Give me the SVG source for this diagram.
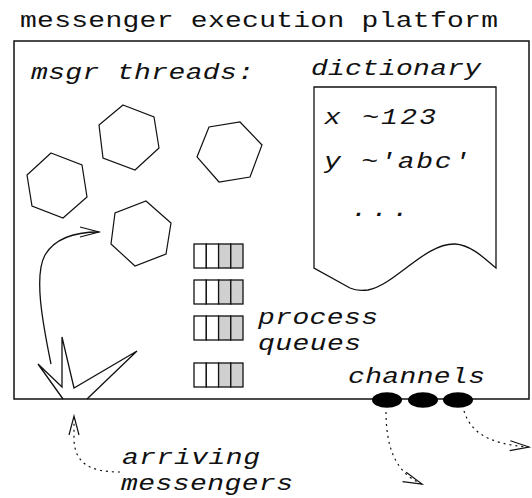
<svg xmlns="http://www.w3.org/2000/svg" width="532" height="498" viewBox="0 0 532 498">
  <style>
    .lbl { font-family: "Liberation Mono", "Courier New", monospace; font-size: 28px; fill: #111; }
    .it { font-style: italic; }
    .edge { fill: none; stroke: #111; stroke-width: 1.3; }
    .thread { fill: #fff; stroke: #111; stroke-width: 1.2; }
    .cell { fill: #fff; stroke: #111; stroke-width: 1.3; }
    .cell.busy { fill: #d0d0d0; }
    .dotted { fill: none; stroke: #111; stroke-width: 1.2; stroke-dasharray: 2 4; }
  </style>
  <defs>
    <marker id="open-head" markerUnits="userSpaceOnUse" markerWidth="24" markerHeight="14" viewBox="-21 -7 24 14" refX="0" refY="0" orient="auto">
      <path d="M-19,-5 L0,0 L-19,5" fill="none" stroke="#111" stroke-width="1.2" stroke-dasharray="none"/>
    </marker>
  </defs>

  <rect width="532" height="498" fill="#fff"/>

  <!-- labels use a wide, slightly flattened typewriter face: translate to baseline, then squash vertically -->

  <!-- platform -->
  <g id="platform">
    <text class="lbl" transform="translate(20,27) scale(1,0.8)" textLength="478" lengthAdjust="spacing">messenger execution platform</text>
    <rect x="14" y="41" width="515" height="358" fill="none" stroke="#111" stroke-width="1.5"/>
    <text class="lbl it" transform="translate(31,79) scale(1,0.8)" textLength="223" lengthAdjust="spacing">msgr threads:</text>
  </g>

  <!-- threads -->
  <g id="thread-1"><polygon class="thread" points="123,105 154,117 159,148 135,170 103,158 99,125"/></g>
  <g id="thread-2"><polygon class="thread" points="240,122 262,145 250,177 219,182 197,157 209,127"/></g>
  <g id="thread-3"><polygon class="thread" points="51,153 82,165 87,197 63,218 32,206 27,175"/></g>
  <g id="thread-4"><polygon class="thread" points="146,201 171,223 166,254 135,266 111,244 115,213"/></g>

  <!-- dictionary -->
  <g id="dictionary">
    <text class="lbl it" transform="translate(311,75) scale(1,0.8)" textLength="170" lengthAdjust="spacing">dictionary</text>
    <path class="edge" d="M314,268 L314,87 L496,87 L496,268 C486,260 472,245 455,244 C425,243 395,285 368,290 C360,291 354,290 350,288 Z"/>
    <text class="lbl it" transform="translate(324,124) scale(1,0.8)" textLength="112" lengthAdjust="spacing">x ~123</text>
    <text class="lbl it" transform="translate(324,168) scale(1,0.8)" textLength="146" lengthAdjust="spacing">y ~'abc'</text>
    <text class="lbl it" transform="translate(351,216) scale(1,0.8)" textLength="58" lengthAdjust="spacing">...</text>
  </g>

  <!-- process queues -->
  <g id="queue-1">
    <rect class="cell" x="194" y="244" width="12.3" height="24"/>
    <rect class="cell" x="206.3" y="244" width="12.3" height="24"/>
    <rect class="cell busy" x="218.6" y="244" width="12.2" height="24"/>
    <rect class="cell busy" x="230.8" y="244" width="12.2" height="24"/>
  </g>
  <g id="queue-2">
    <rect class="cell" x="194" y="280" width="12.3" height="24"/>
    <rect class="cell" x="206.3" y="280" width="12.3" height="24"/>
    <rect class="cell busy" x="218.6" y="280" width="12.2" height="24"/>
    <rect class="cell busy" x="230.8" y="280" width="12.2" height="24"/>
  </g>
  <g id="queue-3">
    <rect class="cell" x="194" y="316" width="12.3" height="24"/>
    <rect class="cell" x="206.3" y="316" width="12.3" height="24"/>
    <rect class="cell busy" x="218.6" y="316" width="12.2" height="24"/>
    <rect class="cell busy" x="230.8" y="316" width="12.2" height="24"/>
  </g>
  <g id="queue-4">
    <rect class="cell" x="194" y="363" width="12.3" height="24"/>
    <rect class="cell" x="206.3" y="363" width="12.3" height="24"/>
    <rect class="cell busy" x="218.6" y="363" width="12.2" height="24"/>
    <rect class="cell busy" x="230.8" y="363" width="12.2" height="24"/>
  </g>
  <g id="queues-label">
    <text class="lbl it" transform="translate(258,324) scale(1,0.8)" textLength="120" lengthAdjust="spacing">process</text>
    <text class="lbl it" transform="translate(258,350) scale(1,0.8)" textLength="103" lengthAdjust="spacing">queues</text>
  </g>

  <!-- arrival point -->
  <g id="arrival">
    <polyline class="edge" points="63,399 38,364 62,387 62,337 74,388 137,351 87,399"/>
  </g>

  <!-- channels -->
  <g id="channels">
    <text class="lbl it" transform="translate(348,383) scale(1,0.8)" textLength="137" lengthAdjust="spacing">channels</text>
    <ellipse cx="387" cy="400" rx="15" ry="7.7" fill="#000"/>
    <ellipse cx="423" cy="400" rx="15" ry="7.7" fill="#000"/>
    <ellipse cx="458" cy="400" rx="15" ry="7.7" fill="#000"/>
  </g>

  <g id="arriving-label">
    <text class="lbl it" transform="translate(122,464) scale(1,0.8)" textLength="138" lengthAdjust="spacing">arriving</text>
    <text class="lbl it" transform="translate(121,490) scale(1,0.8)" textLength="172" lengthAdjust="spacing">messengers</text>
  </g>

  <!-- connectors -->
  <g id="connectors">
    <path class="edge" d="M51,364 C42,320 34,275 45,255 C55,238 75,232 99,232" marker-end="url(#open-head)"/>
    <path class="dotted" d="M120,472 C88,472 75,462 74,440 L74,416" marker-end="url(#open-head)"/>
    <path class="dotted" d="M386,412 C386,440 392,472 422,484" marker-end="url(#open-head)"/>
    <path class="dotted" d="M464,411 C470,430 485,444 529,447" marker-end="url(#open-head)"/>
  </g>
</svg>
